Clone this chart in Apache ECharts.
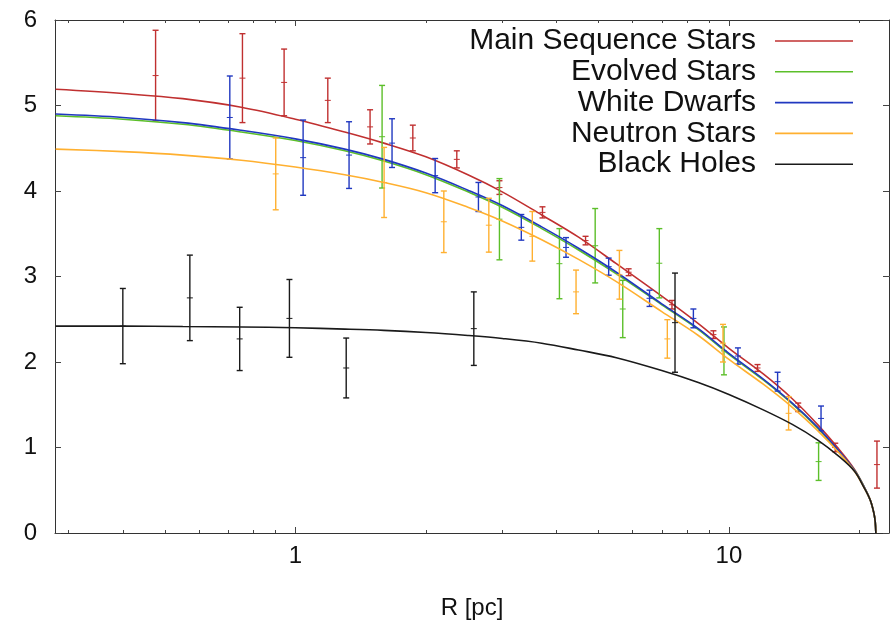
<!DOCTYPE html>
<html>
<head>
<meta charset="utf-8">
<script src="https://cdn.jsdelivr.net/npm/echarts@6/dist/echarts.min.js"></script>
<style>
html,body{margin:0;padding:0;background:#fff;}
#chart{width:892px;height:629px;}
</style>
</head>
<body>
<div id="chart"></div>
<script>
// ---------- data ----------
const seriesNames = ['Main Sequence Stars', 'Evolved Stars', 'White Dwarfs', 'Neutron Stars', 'Black Holes'];

// model curves (R in pc)
const curveR   = [0.28, 0.4, 0.55, 0.75, 1.0, 1.3, 1.6, 2.0, 2.5, 3.0, 3.7, 4.5, 5.5, 7.0, 8.5, 10, 12, 14, 16, 18, 19.5, 20.5, 21.2, 21.6, 21.75, 21.82];
const curveMS  = [5.19, 5.14, 5.08, 4.98, 4.84, 4.69, 4.56, 4.40, 4.19, 3.99, 3.72, 3.46, 3.15, 2.77, 2.45, 2.16, 1.86, 1.57, 1.27, 0.97, 0.74, 0.54, 0.38, 0.23, 0.13, 0];
const curveES  = [4.88, 4.84, 4.78, 4.69, 4.59, 4.47, 4.35, 4.19, 3.99, 3.81, 3.56, 3.31, 3.03, 2.67, 2.38, 2.09, 1.79, 1.51, 1.23, 0.94, 0.73, 0.54, 0.38, 0.23, 0.13, 0];
const curveWD  = [4.90, 4.86, 4.80, 4.71, 4.61, 4.49, 4.37, 4.21, 4.01, 3.83, 3.58, 3.33, 3.05, 2.68, 2.39, 2.10, 1.80, 1.52, 1.24, 0.95, 0.73, 0.54, 0.38, 0.23, 0.13, 0];
const curveNS  = [4.49, 4.46, 4.42, 4.36, 4.28, 4.19, 4.10, 3.98, 3.81, 3.65, 3.43, 3.20, 2.94, 2.59, 2.31, 2.03, 1.74, 1.47, 1.20, 0.93, 0.72, 0.53, 0.38, 0.23, 0.13, 0];
const curveBH  = [2.42, 2.42, 2.415, 2.41, 2.40, 2.385, 2.37, 2.345, 2.31, 2.275, 2.22, 2.14, 2.05, 1.90, 1.76, 1.62, 1.44, 1.27, 1.09, 0.89, 0.72, 0.53, 0.38, 0.23, 0.13, 0];

// measured points with error bars
const msR = [0.476, 0.755, 0.942, 1.188, 1.487, 1.866, 2.357, 2.956, 3.715, 4.67, 5.87, 7.39, 9.21, 11.64, 14.45, 17.59, 21.95];
const msV = [5.35, 5.32, 5.27, 5.06, 4.75, 4.62, 4.37, 4.04, 3.75, 3.42, 3.05, 2.67, 2.32, 1.93, 1.47, 1.00, 0.80];
const msE = [0.53, 0.52, 0.39, 0.26, 0.20, 0.15, 0.10, 0.08, 0.065, 0.05, 0.04, 0.05, 0.045, 0.04, 0.05, 0.05, 0.275];

const esR = [1.585, 2.956, 4.065, 4.915, 5.69, 6.91, 9.74, 16.1];
const esV = [4.635, 3.67, 3.15, 3.36, 2.62, 3.155, 2.13, 0.835];
const esE = [0.60, 0.475, 0.41, 0.435, 0.335, 0.405, 0.28, 0.22];

const wdR = [0.706, 1.042, 1.33, 1.671, 2.101, 2.644, 3.32, 4.21, 5.28, 6.56, 8.28, 10.49, 12.95, 16.31];
const wdV = [4.86, 4.39, 4.42, 4.56, 4.18, 3.93, 3.575, 3.34, 3.115, 2.745, 2.51, 2.07, 1.77, 1.34];
const wdE = [0.485, 0.44, 0.39, 0.285, 0.20, 0.17, 0.15, 0.115, 0.10, 0.095, 0.11, 0.095, 0.11, 0.145];

const nsR = [0.901, 1.602, 2.20, 2.794, 3.52, 4.44, 5.59, 7.21, 9.69, 13.73];
const nsV = [4.20, 4.10, 3.64, 3.60, 3.47, 2.82, 3.02, 2.27, 2.22, 1.40];
const nsE = [0.42, 0.41, 0.36, 0.315, 0.29, 0.255, 0.285, 0.225, 0.22, 0.195];

const bhR = [0.400, 0.571, 0.744, 0.969, 1.31, 2.58, 7.51];
const bhV = [2.42, 2.75, 2.27, 2.51, 1.93, 2.39, 2.46];
const bhE = [0.44, 0.50, 0.37, 0.455, 0.35, 0.43, 0.58];

// axis ticks
const xMajorTicks = [1, 10];
const xMinorTicks = [0.3, 0.4, 0.5, 0.6, 0.7, 0.8, 0.9, 2, 3, 4, 5, 6, 7, 8, 9, 20];
const xLabels = [1, 10];

// ---------- styling ----------
const colors = ['#c03030', '#5cbf2a', '#2038c0', '#ffb030', '#1a1a1a'];
const FONT = "'Liberation Sans', Arial, Helvetica, sans-serif";

const curves = [curveMS, curveES, curveWD, curveNS, curveBH];
const pts = [[msR, msV, msE], [esR, esV, esE], [wdR, wdV, wdE], [nsR, nsV, nsE], [bhR, bhV, bhE]];

const series = [];
seriesNames.forEach((name, k) => {
  const [R, V, E] = pts[k];
  const color = colors[k];
  series.push({
    type: 'custom',
    name: name + ' data',
    xAxisIndex: 0, yAxisIndex: 0,
    z: 2 + k * 2,
    silent: true,
    data: R.map((r, i) => [r, V[i] - E[i], V[i], V[i] + E[i]]),
    encode: { x: 0, y: [1, 2, 3] },
    renderItem: function (params, api) {
      const x = api.value(0);
      const lo = api.coord([x, api.value(1)]);
      const mid = api.coord([x, api.value(2)]);
      const hi = api.coord([x, api.value(3)]);
      const w = 3;
      const st = { stroke: color, lineWidth: 1.4 };
      return {
        type: 'group',
        children: [
          { type: 'line', shape: { x1: lo[0], y1: lo[1], x2: hi[0], y2: hi[1] }, style: st },
          { type: 'line', shape: { x1: lo[0] - w, y1: lo[1], x2: lo[0] + w, y2: lo[1] }, style: st },
          { type: 'line', shape: { x1: hi[0] - w, y1: hi[1], x2: hi[0] + w, y2: hi[1] }, style: st },
          { type: 'line', shape: { x1: mid[0] - w, y1: mid[1], x2: mid[0] + w, y2: mid[1] }, style: { stroke: color, lineWidth: 1 } }
        ]
      };
    }
  });
  series.push({
    type: 'line',
    name: name,
    xAxisIndex: 0, yAxisIndex: 0,
    z: 3 + k * 2,
    data: curveR.map((r, i) => [r, curves[k][i]]),
    showSymbol: false,
    symbol: 'none',
    smooth: 0.35,
    lineStyle: { color: color, width: 1.6 },
    itemStyle: { color: color },
    silent: true
  });
});

const axisLineStyle = { color: '#333', width: 1 };
const X_MIN = 0.279, X_MAX = 23.4;

function xAxisDef(pos, ticks, len, showLine, showLabel) {
  return {
    type: 'log', logBase: 10, position: pos, min: X_MIN, max: X_MAX,
    gridIndex: 0,
    axisLine: { show: showLine, onZero: false, lineStyle: axisLineStyle },
    axisTick: { show: true, inside: true, length: len, customValues: ticks, lineStyle: { color: '#444', width: 1 } },
    minorTick: { show: false },
    splitLine: { show: false },
    axisLabel: showLabel ? {
      show: true, customValues: xLabels, fontSize: 24, fontFamily: FONT, color: '#111', margin: 11,
      formatter: function (v) { return String(Math.round(v)); }
    } : { show: false },
    name: showLabel ? 'R [pc]' : '',
    nameLocation: 'middle',
    nameGap: 63,
    nameTextStyle: { fontSize: 24, fontFamily: FONT, color: '#111' }
  };
}

const option = {
  backgroundColor: '#ffffff',
  animation: false,
  grid: { left: 55, right: 3, top: 20, bottom: 96, containLabel: false },
  legend: {
    orient: 'vertical',
    right: 34,
    top: 21,
    align: 'right',
    icon: 'rect',
    itemWidth: 78,
    itemHeight: 1.6,
    itemGap: 0.8,
    data: seriesNames,
    selectedMode: false,
    textStyle: { fontSize: 30, fontFamily: FONT, color: '#111', lineHeight: 30, padding: [0, 14, 0, 0] }
  },
  xAxis: [
    xAxisDef('bottom', xMajorTicks, 6, true, true),
    xAxisDef('bottom', xMinorTicks, 3, false, false),
    xAxisDef('top', xMajorTicks, 6, true, false),
    xAxisDef('top', xMinorTicks, 3, false, false)
  ],
  yAxis: [
    {
      type: 'value', position: 'left', min: 0, max: 6, interval: 1,
      axisLine: { show: true, onZero: false, lineStyle: axisLineStyle },
      axisTick: { show: true, inside: true, length: 6, lineStyle: { color: '#444' } },
      splitLine: { show: false },
      axisLabel: { fontSize: 24, fontFamily: FONT, color: '#111', margin: 18 }
    },
    {
      type: 'value', position: 'right', min: 0, max: 6, interval: 1,
      axisLine: { show: true, onZero: false, lineStyle: axisLineStyle },
      axisTick: { show: true, inside: true, length: 6, lineStyle: { color: '#444' } },
      splitLine: { show: false },
      axisLabel: { show: false }
    }
  ],
  series: series
};

const chart = echarts.init(document.getElementById('chart'), null, { renderer: 'canvas' });
chart.setOption(option);
</script>
</body>
</html>
